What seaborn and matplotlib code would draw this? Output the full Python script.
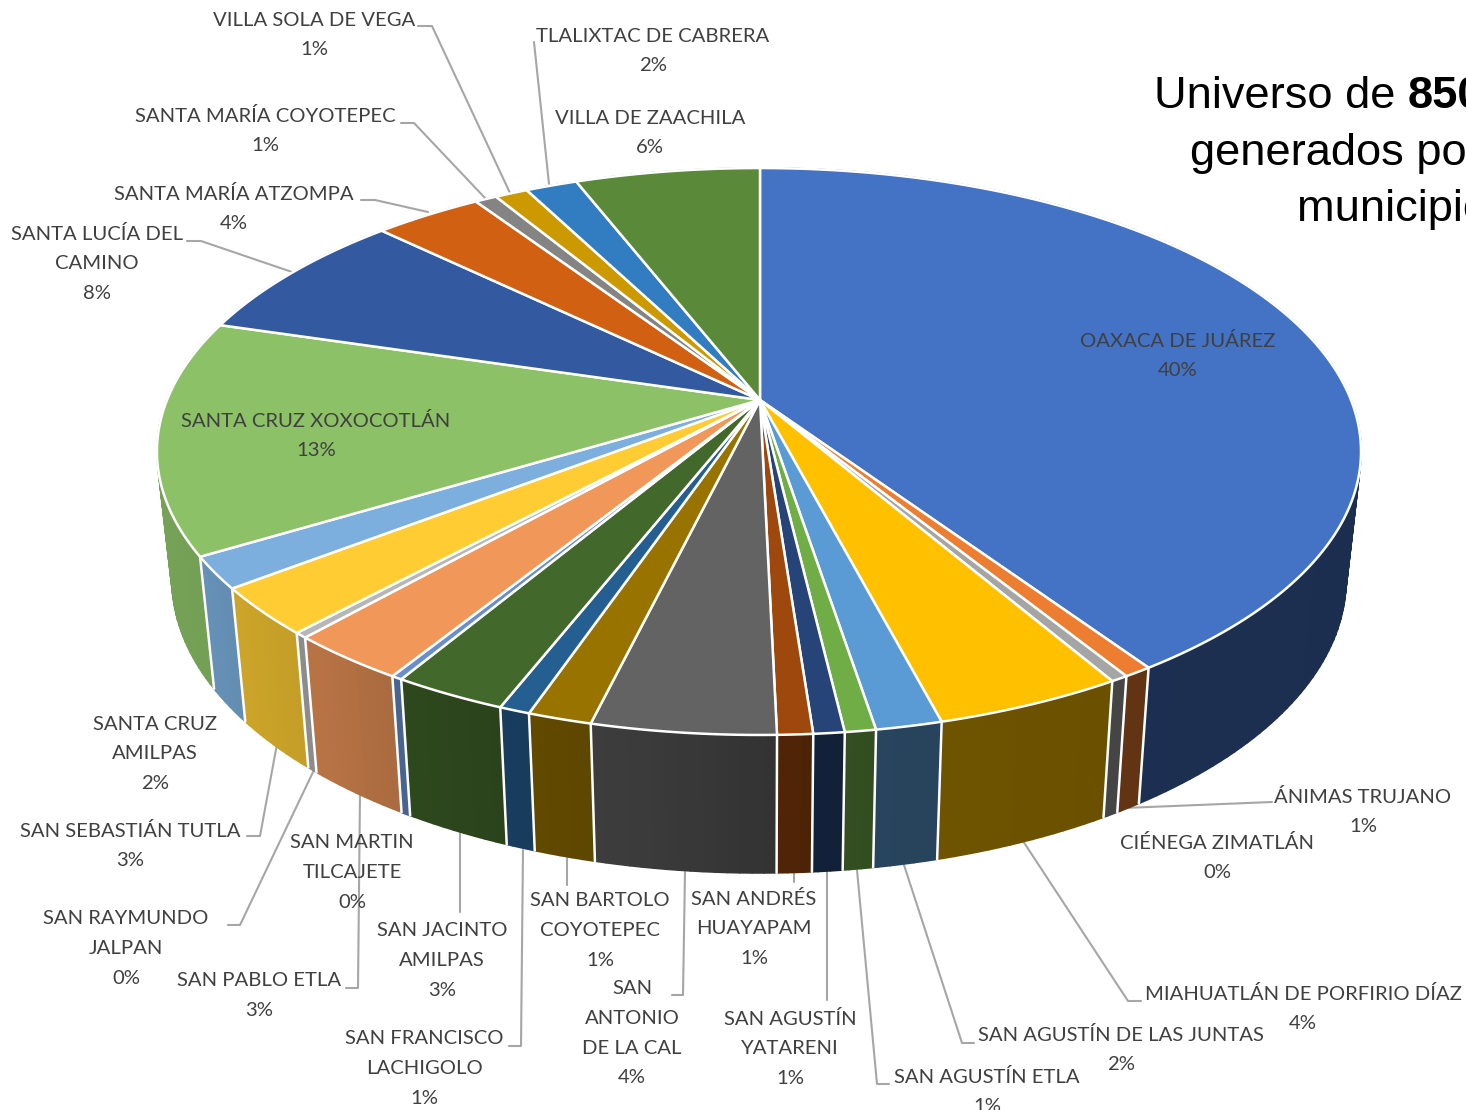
import numpy as np
import matplotlib
matplotlib.use('Agg')
import matplotlib.pyplot as plt
from matplotlib.collections import PolyCollection
import seaborn as sns

# Municipalities clockwise from 12 o'clock
municipios = [
    'OAXACA DE JUÁREZ', 'ÁNIMAS TRUJANO', 'CIÉNEGA ZIMATLÁN', 'MIAHUATLÁN DE PORFIRIO DÍAZ',
    'SAN AGUSTÍN DE LAS JUNTAS', 'SAN AGUSTÍN ETLA', 'SAN AGUSTÍN\nYATARENI', 'SAN ANDRÉS\nHUAYAPAM',
    'SAN\nANTONIO\nDE LA CAL', 'SAN BARTOLO\nCOYOTEPEC', 'SAN FRANCISCO\nLACHIGOLO', 'SAN JACINTO\nAMILPAS',
    'SAN MARTIN\nTILCAJETE', 'SAN PABLO ETLA', 'SAN RAYMUNDO\nJALPAN', 'SAN SEBASTIÁN TUTLA',
    'SANTA CRUZ\nAMILPAS', 'SANTA CRUZ XOXOCOTLÁN', 'SANTA LUCÍA DEL\nCAMINO', 'SANTA MARÍA ATZOMPA',
    'SANTA MARÍA COYOTEPEC', 'VILLA SOLA DE VEGA', 'TLALIXTAC DE CABRERA', 'VILLA DE ZAACHILA',
]
# estimated share of each slice, read from the rim
shares = [40.55, 0.65, 0.4, 4.3, 1.5, 0.7, 0.7, 0.8, 4.15, 1.45, 0.7, 2.6,
          0.25, 2.75, 0.3, 2.7, 1.8, 13.3, 7.6, 3.45, 0.7, 1.05, 1.65, 5.9]
# percentages as printed on the labels
printed = [40, 1, 0, 4, 2, 1, 1, 1, 4, 1, 1, 3, 0, 3, 0, 3, 2, 13, 8, 4, 1, 1, 2, 6]

colors = ['#4472C4', '#ED7D31', '#A5A5A5', '#FFC000', '#5B9BD5', '#70AD47',
          '#264478', '#9E480E', '#636363', '#997300', '#255E91', '#43682B',
          '#698ED0', '#F1975A', '#B7B7B7', '#FFCD33', '#7CAFDD', '#8CC168',
          '#335AA1', '#D26012', '#848484', '#CC9A00', '#327DC2', '#5A8A39']

# label centre x, y of first line
label_pos = [
    (1178, 340), (1363, 796), (1217, 842), (1303, 993), (1121, 1034), (987, 1076),
    (790, 1018), (754, 898), (632, 988), (600, 900), (424, 1038), (442, 930),
    (352, 842), (259, 980), (126, 918), (130, 830), (155, 723), (316, 420),
    (97, 233), (234, 193), (265, 115), (314, 19), (653, 35), (650, 117),
]

leaders = [
    [(418, 26), (432, 26), (510, 193)],
    [(534, 42), (549, 184)],
    [(401, 123), (414, 123), (485, 198)],
    [(361, 200), (375, 200), (428, 212)],
    [(187, 241), (201, 241), (292, 272)],
    [(1272, 802), (1124, 808)],
    [(1141, 1001), (1128, 1001), (1023, 841)],
    [(974, 1043), (962, 1043), (904, 865)],
    [(889, 1084), (877, 1084), (857, 870)],
    [(827, 1000), (827, 870)],
    [(794, 873), (794, 882)],
    [(672, 995), (683, 995), (685, 872)],
    [(567, 858), (567, 885)],
    [(509, 1046), (521, 1046), (523, 850)],
    [(460, 832), (460, 912)],
    [(346, 988), (358, 988), (360, 793)],
    [(228, 925), (240, 925), (314, 770)],
    [(247, 836), (260, 836), (277, 744)],
]

# projection of the tilted disc
CX, CY = 760, 400
A_RIGHT, A_LEFT, B, K = 591, 593, 274.1, 0.1817


def rim(deg):
    t = np.radians(deg)
    w = 1 + K * np.cos(t)
    a = A_RIGHT if np.sin(t) >= 0 else A_LEFT
    return CX + a * np.sin(t) / w, CY - B * np.cos(t) / w


def lower(x, y):
    return CX + 0.975 * (x - CX), y + 138 + 0.034 * (y - 735)


def wall_shade(deg):
    return np.interp(deg, [100, 155, 170, 190, 205, 220, 240, 290],
                     [0.40, 0.42, 0.44, 0.60, 0.66, 0.76, 0.83, 0.85])


sns.set_theme(style='white')
plt.rcParams['font.family'] = ['Lato', 'DejaVu Sans']
palette = sns.color_palette(colors)

fig, ax = plt.subplots(figsize=(14.66, 11.1), dpi=100)
fig.subplots_adjust(left=0, right=1, top=1, bottom=0)
ax.set_xlim(0, 1466)
ax.set_ylim(1110, 0)
ax.axis('off')

edges = np.concatenate([[0], np.cumsum(shares)]) / np.sum(shares) * 360

# side wall, in thin strips so the light can change along it
for i, col in enumerate(palette):
    steps = np.arange(edges[i], edges[i + 1], 1.0).tolist() + [edges[i + 1]]
    polys, faces = [], []
    for d0, d1 in zip(steps[:-1], steps[1:]):
        p0, p1 = rim(d0), rim(d1)
        polys.append([p0, p1, lower(*p1), lower(*p0)])
        s = wall_shade((d0 + d1) / 2)
        faces.append(tuple(c * s for c in col))
    ax.add_collection(PolyCollection(polys, facecolors=faces, edgecolors=faces,
                                     linewidths=1.2, zorder=2))

for d in edges[:-1]:
    if 100 < d < 290:
        p = rim(d)
        q = lower(*p)
        ax.plot([p[0], q[0]], [p[1], q[1]], color='white', lw=1.8, zorder=3)

# top face
for i, col in enumerate(palette):
    arc = np.linspace(edges[i], edges[i + 1], max(3, int(edges[i + 1] - edges[i]) * 2))
    pts = [(CX, CY)] + [rim(d) for d in arc]
    ax.fill(*zip(*pts), facecolor=col, edgecolor='white', lw=1.8, joinstyle='round', zorder=4)

for path in leaders:
    ax.plot(*zip(*path), color='#a6a6a6', lw=1.5, zorder=1)

for name, pct, (x, y) in zip(municipios, printed, label_pos):
    for j, line in enumerate(name.split('\n') + [f'{pct}%']):
        ax.text(x, y + 1 + j * 29.6, line, ha='center', va='center', fontsize=14.6,
                color='#404040', zorder=6)

title_font = ['Liberation Sans', 'DejaVu Sans']
ax.text(1154, 97, 'Universo de ', ha='left', va='center', fontsize=32.6, color='black',
        family=title_font, zorder=6)
ax.text(1408, 97, '850', ha='left', va='center', fontsize=32.6, fontweight='bold',
        color='black', family=title_font, zorder=6)
ax.text(1190, 153, 'generados por', ha='left', va='center', fontsize=32.6, color='black',
        family=title_font, zorder=6)
ax.text(1297, 209, 'municipios', ha='left', va='center', fontsize=32.6, color='black',
        family=title_font, zorder=6)

fig.savefig('out.png', dpi=100)
